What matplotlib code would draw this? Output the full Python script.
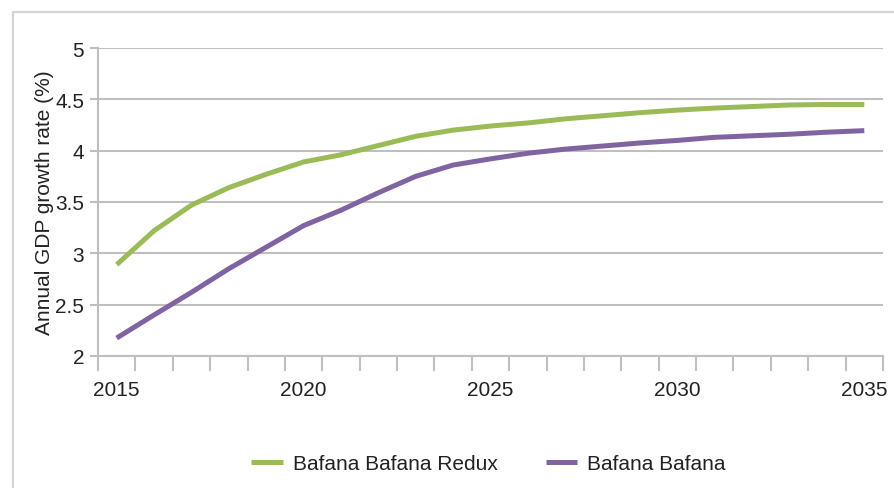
import numpy as np
import matplotlib.pyplot as plt
from matplotlib.patches import Rectangle

## Données
years = np.arange(2015, 2036)
redux = [2.89, 3.22, 3.47, 3.64, 3.77, 3.89, 3.96, 4.05, 4.14, 4.20, 4.24,
         4.27, 4.31, 4.34, 4.37, 4.395, 4.415, 4.43, 4.445, 4.45, 4.45]
bafana = [2.175, 2.40, 2.62, 2.85, 3.06, 3.27, 3.42, 3.59, 3.75, 3.86, 3.92,
          3.975, 4.015, 4.045, 4.075, 4.10, 4.13, 4.145, 4.16, 4.18, 4.195]
labels = ['Bafana Bafana Redux', 'Bafana Bafana']
yticks = [2, 2.5, 3, 3.5, 4, 4.5, 5]

plt.rcParams['font.family'] = ['Liberation Sans', 'DejaVu Sans']
txt = '#222222'
grey = '#bfbfbf'

fig = plt.figure(figsize=(8.95, 4.89), dpi=100)
ax = fig.add_axes([98/895, 1-357/489, (883-98)/895, (357-49)/489])

## Cadre extérieur
fig.patches.append(Rectangle((13/895, -0.1), 1.2, 1.1 - 13/489,
                             transform=fig.transFigure, fill=False,
                             edgecolor='#d4d4d4', linewidth=1.6))

ax.plot(years, redux, color='#9bbb59', lw=3.6, label=labels[0], solid_capstyle='butt')
ax.plot(years, bafana, color='#8064a2', lw=3.6, label=labels[1], solid_capstyle='butt')

ax.set_xlim(2014.5, 2035.5)
ax.set_ylim(2, 5)
ax.set_yticks(yticks)
ax.set_yticklabels(['2', '2.5', '3', '3.5', '4', '4.5', '5'])
ax.set_xticks([2015, 2020, 2025, 2030, 2035])
ax.set_xticks(np.arange(2014.5, 2036, 1), minor=True)
ax.tick_params(axis='x', which='major', length=0, pad=17, labelsize=15, colors=txt)
ax.tick_params(axis='x', which='minor', length=11, width=1.5, color=grey)
ax.tick_params(axis='y', length=6, width=1.5, color=grey, labelsize=15, labelcolor=txt, pad=4)

ax.grid(axis='y', color=grey, lw=1.5)
ax.set_axisbelow(True)
for s in ['top', 'right']:
    ax.spines[s].set_visible(False)
for s in ['left', 'bottom']:
    ax.spines[s].set_color(grey)
    ax.spines[s].set_linewidth(1.5)

ax.set_ylabel('Annual GDP growth rate (%)', fontsize=15, color=txt, labelpad=1)

fig.legend(loc='center', bbox_to_anchor=(0.546, 1-465/489), ncol=2, frameon=False,
           fontsize=15, handlelength=1.5, handletextpad=0.5, columnspacing=2.3,
           labelcolor=txt)

fig.savefig('out.png', dpi=100)
